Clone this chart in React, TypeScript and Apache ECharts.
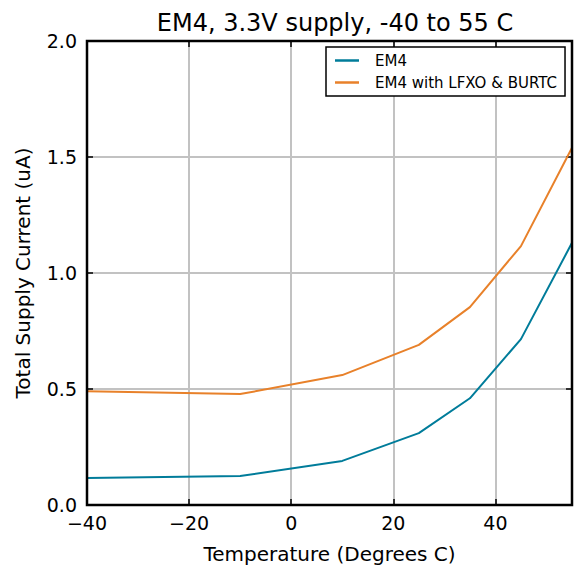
import React, { useEffect, useRef } from "react";
import * as echarts from "echarts";

const temps = [-40, -10, 10, 25, 35, 45, 55];
const em4 = [0.116, 0.125, 0.19, 0.31, 0.46, 0.715, 1.13];
const em4Lfxo = [0.49, 0.478, 0.56, 0.69, 0.853, 1.116, 1.54];
const seriesNames = ["EM4", "EM4 with LFXO & BURTC"];
const colors = ["#007c9a", "#e8812a"];
const FONT = "DejaVu Sans";

const G = { left: 87, top: 41, width: 485, height: 464 };

const fmtMinus = (v: number) => String(v).replace("-", "\u2212");

export default function App() {
  const ref = useRef<HTMLDivElement>(null);
  useEffect(() => {
    if (!ref.current) return;
    const chart = echarts.init(ref.current, null, { renderer: "svg" });
    const gridLine = {
      show: true,
      showMinLine: false,
      showMaxLine: false,
      lineStyle: { color: "#c2c2c2", width: 2 },
    };
    const tick = { show: true, inside: true, length: 6, lineStyle: { color: "#000", width: 1.5 } };
    chart.setOption({
      animation: false,
      backgroundColor: "#fff",
      title: {
        text: "EM4, 3.3V supply, -40 to 55 C",
        left: 330,
        top: 6,
        textAlign: "center",
        textStyle: { fontFamily: FONT, fontSize: 24, fontWeight: "normal", color: "#000" },
      },
      grid: { ...G, show: false },
      graphic: [
        {
          type: "rect",
          z: 100,
          silent: true,
          shape: { x: G.left, y: G.top, width: G.width, height: G.height },
          style: { fill: "none", stroke: "#000", lineWidth: 2.5 },
        },
      ],
      legend: {
        data: seriesNames,
        orient: "vertical",
        left: 326,
        top: 47,
        padding: [6, 8, 6, 9],
        itemWidth: 24,
        itemHeight: 2.5,
        itemGap: 7,
        borderColor: "#000",
        borderWidth: 1.5,
        backgroundColor: "#fff",
        z: 50,
        textStyle: { fontFamily: FONT, fontSize: 15, color: "#000", padding: [0, 0, 0, 11] },
        icon: "rect",
      },
      xAxis: [
        {
          type: "value",
          min: -40,
          max: 55,
          interval: 20,
          position: "bottom",
          name: "Temperature (Degrees C)",
          nameLocation: "middle",
          nameGap: 39,
          nameTextStyle: { fontFamily: FONT, fontSize: 20, color: "#000" },
          axisLine: { show: false, onZero: false },
          axisTick: tick,
          axisLabel: {
            fontFamily: FONT,
            fontSize: 19,
            color: "#000",
            margin: 8,
            formatter: (v: number) => fmtMinus(v),
            showMaxLabel: false,
          },
          splitLine: gridLine,
        },
        {
          type: "value",
          min: -40,
          max: 55,
          interval: 20,
          position: "top",
          axisLine: { show: false, onZero: false },
          axisTick: tick,
          axisLabel: { show: false },
          splitLine: { show: false },
        },
      ],
      yAxis: [
        {
          type: "value",
          min: 0,
          max: 2,
          interval: 0.5,
          position: "left",
          name: "Total Supply Current (uA)",
          nameLocation: "middle",
          nameGap: 54,
          nameTextStyle: { fontFamily: FONT, fontSize: 20, color: "#000" },
          axisLine: { show: false, onZero: false },
          axisTick: tick,
          axisLabel: {
            fontFamily: FONT,
            fontSize: 19,
            color: "#000",
            margin: 10,
            formatter: (v: number) => v.toFixed(1),
          },
          splitLine: gridLine,
        },
        {
          type: "value",
          min: 0,
          max: 2,
          interval: 0.5,
          position: "right",
          axisLine: { show: false, onZero: false },
          axisTick: tick,
          axisLabel: { show: false },
          splitLine: { show: false },
        },
      ],
      series: [
        {
          name: seriesNames[0],
          type: "line",
          data: temps.map((t, i) => [t, em4[i]]),
          symbol: "none",
          lineStyle: { color: colors[0], width: 2 },
          itemStyle: { color: colors[0] },
          clip: true,
        },
        {
          name: seriesNames[1],
          type: "line",
          data: temps.map((t, i) => [t, em4Lfxo[i]]),
          symbol: "none",
          lineStyle: { color: colors[1], width: 2 },
          itemStyle: { color: colors[1] },
          clip: true,
        },
      ],
    });
    return () => chart.dispose();
  }, []);
  return (
    <div
      ref={ref}
      style={{ position: "fixed", left: 0, top: 0, width: 574, height: 572, background: "#fff" }}
    />
  );
}
